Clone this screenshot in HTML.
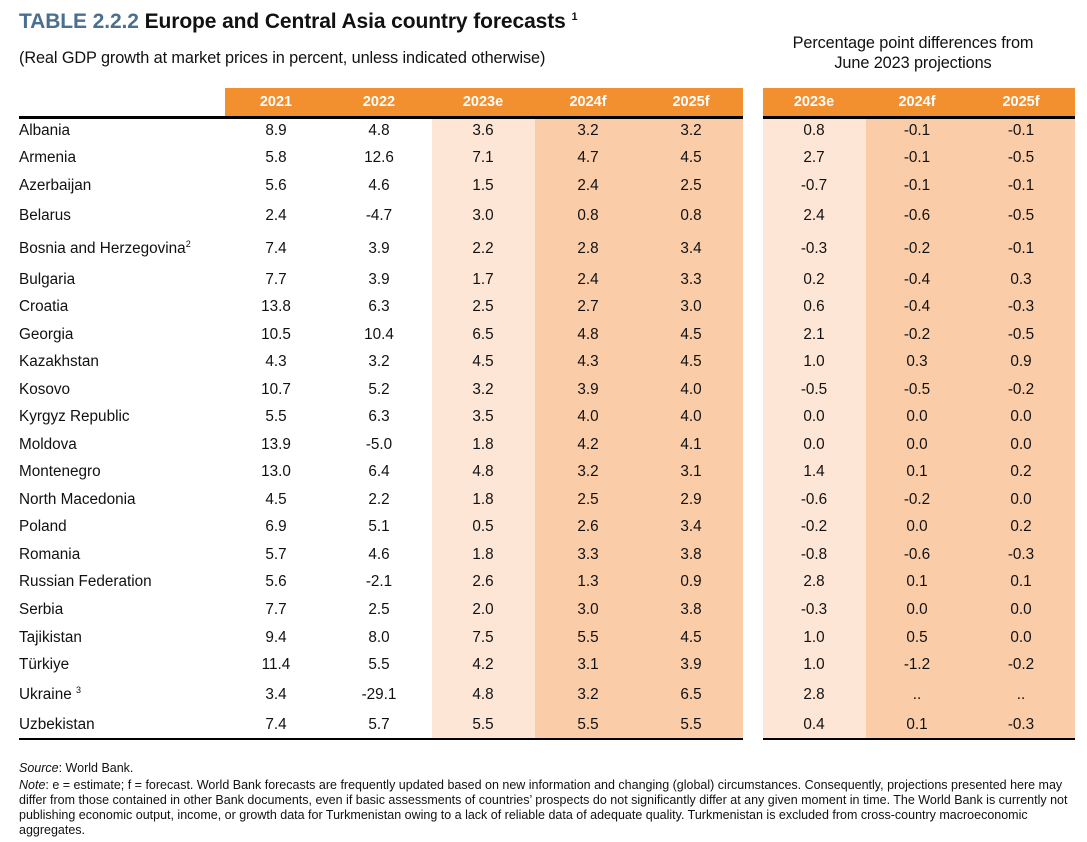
<!DOCTYPE html>
<html><head><meta charset="utf-8"><style>
body{margin:0;width:1087px;height:842px;background:#fff;position:relative;font-family:"Liberation Sans",Arial,sans-serif;color:#111;overflow:hidden}
.a{position:absolute}
.t{left:19px;top:10px;font-size:21px;font-weight:bold;letter-spacing:-0.1px}
.t b{color:#4a6f8f}
.sub{left:19px;top:49px;font-size:16.3px;letter-spacing:-0.1px}
.pp{left:760px;top:33px;width:306px;text-align:center;font-size:16.3px;line-height:20px;letter-spacing:-0.1px}
.r{position:absolute;left:0;width:1087px;height:20px;line-height:20px;font-size:15.3px}
.r span{position:absolute;width:100px;text-align:center;top:0}
.r span:nth-child(1){left:19px;width:220px;text-align:left}
.r span:nth-child(2){left:226px}
.r span:nth-child(3){left:329px}
.r span:nth-child(4){left:433px}
.r span:nth-child(5){left:538px}
.r span:nth-child(6){left:641px}
.r span:nth-child(7){left:764px}
.r span:nth-child(8){left:867px}
.r span:nth-child(9){left:971px}
.h{color:#fff;font-weight:bold;font-size:14.5px}
sup{font-size:9px;line-height:0;vertical-align:super}
.f{left:19px;font-size:12.5px;line-height:15px;width:1052px}
</style></head><body>
<div class="a t"><b>TABLE 2.2.2</b> Europe and Central Asia country forecasts <sup style="font-size:11px">1</sup></div>
<div class="a sub">(Real GDP growth at market prices in percent, unless indicated otherwise)</div>
<div class="a pp">Percentage point differences from<br>June 2023 projections</div>
<div class="a" style="left:225px;top:88px;width:518px;height:28px;background:#f28f2e"></div>
<div class="a" style="left:763px;top:88px;width:312px;height:28px;background:#f28f2e"></div>
<div class="a" style="left:432px;top:117px;width:103px;height:622px;background:#fde6d6"></div>
<div class="a" style="left:535px;top:117px;width:208px;height:622px;background:#facda8"></div>
<div class="a" style="left:763px;top:117px;width:103px;height:622px;background:#fde6d6"></div>
<div class="a" style="left:866px;top:117px;width:209px;height:622px;background:#facda8"></div>
<div class="a" style="left:19px;top:116px;width:724px;height:3px;background:#000"></div>
<div class="a" style="left:763px;top:116px;width:312px;height:3px;background:#000"></div>
<div class="a" style="left:19px;top:738px;width:724px;height:2px;background:#000"></div>
<div class="a" style="left:763px;top:738px;width:312px;height:2px;background:#000"></div>
<div class="r h" style="top:92px"><span></span><span>2021</span><span>2022</span><span>2023e</span><span>2024f</span><span>2025f</span><span>2023e</span><span>2024f</span><span>2025f</span></div>
<div class="r" style="top:121px"><span>Albania</span><span>8.9</span><span>4.8</span><span>3.6</span><span>3.2</span><span>3.2</span><span>0.8</span><span>-0.1</span><span>-0.1</span></div>
<div class="r" style="top:148px"><span>Armenia</span><span>5.8</span><span>12.6</span><span>7.1</span><span>4.7</span><span>4.5</span><span>2.7</span><span>-0.1</span><span>-0.5</span></div>
<div class="r" style="top:176px"><span>Azerbaijan</span><span>5.6</span><span>4.6</span><span>1.5</span><span>2.4</span><span>2.5</span><span>-0.7</span><span>-0.1</span><span>-0.1</span></div>
<div class="r" style="top:206px"><span>Belarus</span><span>2.4</span><span>-4.7</span><span>3.0</span><span>0.8</span><span>0.8</span><span>2.4</span><span>-0.6</span><span>-0.5</span></div>
<div class="r" style="top:239px"><span>Bosnia and Herzegovina<sup>2</sup></span><span>7.4</span><span>3.9</span><span>2.2</span><span>2.8</span><span>3.4</span><span>-0.3</span><span>-0.2</span><span>-0.1</span></div>
<div class="r" style="top:270px"><span>Bulgaria</span><span>7.7</span><span>3.9</span><span>1.7</span><span>2.4</span><span>3.3</span><span>0.2</span><span>-0.4</span><span>0.3</span></div>
<div class="r" style="top:297px"><span>Croatia</span><span>13.8</span><span>6.3</span><span>2.5</span><span>2.7</span><span>3.0</span><span>0.6</span><span>-0.4</span><span>-0.3</span></div>
<div class="r" style="top:325px"><span>Georgia</span><span>10.5</span><span>10.4</span><span>6.5</span><span>4.8</span><span>4.5</span><span>2.1</span><span>-0.2</span><span>-0.5</span></div>
<div class="r" style="top:352px"><span>Kazakhstan</span><span>4.3</span><span>3.2</span><span>4.5</span><span>4.3</span><span>4.5</span><span>1.0</span><span>0.3</span><span>0.9</span></div>
<div class="r" style="top:380px"><span>Kosovo</span><span>10.7</span><span>5.2</span><span>3.2</span><span>3.9</span><span>4.0</span><span>-0.5</span><span>-0.5</span><span>-0.2</span></div>
<div class="r" style="top:407px"><span>Kyrgyz Republic</span><span>5.5</span><span>6.3</span><span>3.5</span><span>4.0</span><span>4.0</span><span>0.0</span><span>0.0</span><span>0.0</span></div>
<div class="r" style="top:435px"><span>Moldova</span><span>13.9</span><span>-5.0</span><span>1.8</span><span>4.2</span><span>4.1</span><span>0.0</span><span>0.0</span><span>0.0</span></div>
<div class="r" style="top:462px"><span>Montenegro</span><span>13.0</span><span>6.4</span><span>4.8</span><span>3.2</span><span>3.1</span><span>1.4</span><span>0.1</span><span>0.2</span></div>
<div class="r" style="top:490px"><span>North Macedonia</span><span>4.5</span><span>2.2</span><span>1.8</span><span>2.5</span><span>2.9</span><span>-0.6</span><span>-0.2</span><span>0.0</span></div>
<div class="r" style="top:517px"><span>Poland</span><span>6.9</span><span>5.1</span><span>0.5</span><span>2.6</span><span>3.4</span><span>-0.2</span><span>0.0</span><span>0.2</span></div>
<div class="r" style="top:545px"><span>Romania</span><span>5.7</span><span>4.6</span><span>1.8</span><span>3.3</span><span>3.8</span><span>-0.8</span><span>-0.6</span><span>-0.3</span></div>
<div class="r" style="top:572px"><span>Russian Federation</span><span>5.6</span><span>-2.1</span><span>2.6</span><span>1.3</span><span>0.9</span><span>2.8</span><span>0.1</span><span>0.1</span></div>
<div class="r" style="top:600px"><span>Serbia</span><span>7.7</span><span>2.5</span><span>2.0</span><span>3.0</span><span>3.8</span><span>-0.3</span><span>0.0</span><span>0.0</span></div>
<div class="r" style="top:628px"><span>Tajikistan</span><span>9.4</span><span>8.0</span><span>7.5</span><span>5.5</span><span>4.5</span><span>1.0</span><span>0.5</span><span>0.0</span></div>
<div class="r" style="top:655px"><span>Türkiye</span><span>11.4</span><span>5.5</span><span>4.2</span><span>3.1</span><span>3.9</span><span>1.0</span><span>-1.2</span><span>-0.2</span></div>
<div class="r" style="top:685px"><span>Ukraine <sup>3</sup></span><span>3.4</span><span>-29.1</span><span>4.8</span><span>3.2</span><span>6.5</span><span>2.8</span><span>..</span><span>..</span></div>
<div class="r" style="top:715px"><span>Uzbekistan</span><span>7.4</span><span>5.7</span><span>5.5</span><span>5.5</span><span>5.5</span><span>0.4</span><span>0.1</span><span>-0.3</span></div>
<div class="a f" style="top:761px"><i>Source</i>: World Bank.</div>
<div class="a f" style="top:778px"><i>Note</i>: e = estimate; f = forecast. World Bank forecasts are frequently updated based on new information and changing (global) circumstances. Consequently, projections presented here may differ from those contained in other Bank documents, even if basic assessments of countries’ prospects do not significantly differ at any given moment in time. The World Bank is currently not publishing economic output, income, or growth data for Turkmenistan owing to a lack of reliable data of adequate quality. Turkmenistan is excluded from cross-country macroeconomic aggregates.</div>
</body></html>
